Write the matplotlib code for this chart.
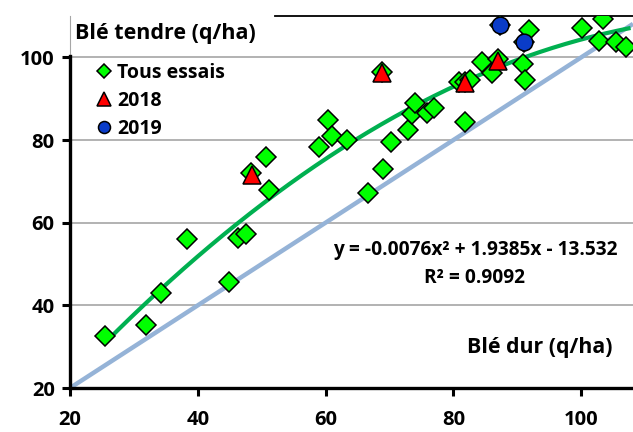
import numpy as np
import matplotlib
matplotlib.use("Agg")
import matplotlib.pyplot as plt

plt.rcParams['font.family'] = ['Open Sans', 'DejaVu Sans']

# Tous essais (blé dur, blé tendre) en q/ha
dur_tous = [25.5, 31.9, 34.2, 38.3, 44.9, 46.3, 47.6, 48.4, 50.7, 51.2,
            59.0, 60.4, 61.0, 63.3, 66.7, 68.8, 69.0, 70.3, 72.9, 73.5,
            74.0, 75.8, 76.9, 80.8, 81.8, 82.6, 81.8, 84.4, 86.1, 87.0,
            87.3, 90.9, 91.0, 91.2, 91.9, 100.1, 102.8, 103.4, 105.4, 107.0]
tendre_tous = [32.7, 35.2, 42.9, 56.1, 45.7, 56.3, 57.2, 72.0, 75.9, 68.0,
               78.4, 84.8, 80.9, 80.0, 67.2, 96.5, 73.0, 79.6, 82.4, 86.4,
               88.9, 86.6, 87.8, 94.1, 94.0, 94.5, 84.4, 98.9, 96.1, 99.5,
               107.8, 98.5, 103.7, 94.6, 106.7, 107.2, 104.0, 109.2, 103.7, 102.5]

dur_2018 = [48.5, 68.8, 81.8, 87.0]
tendre_2018 = [71.5, 96.1, 93.8, 99.0]

dur_2019 = [87.3, 91.0]
tendre_2019 = [107.8, 103.7]

# courbe de tendance polynomiale (coefficients affichés)
coef_poly = [-0.0076, 1.9385, -13.532]

fig = plt.figure(figsize=(6.33, 4.32), dpi=100)
ax = fig.add_axes([70/633, 44/432, 563/633, 372/432])

ax.set_xlim(20, 108.1)
ax.set_ylim(20, 110)

# grille horizontale
for yv in [40, 60, 80, 100]:
    ax.axhline(yv, color='#A6A6A6', lw=1.2, zorder=0)
ax.axhline(110, xmin=0.364, color='black', lw=1.3, zorder=1, clip_on=False)

# droite 1:1
ax.plot([20, 108.1], [20, 108.1], color='#95B3D7', lw=3.2, zorder=2, solid_capstyle='butt')

# tendance
xs = np.linspace(min(dur_tous), 107.4, 200)
ax.plot(xs, np.polyval(coef_poly, xs), color='#00B050', lw=3, zorder=3)

ax.plot(dur_tous, tendre_tous, 'D', ms=10, mfc='#00FF00', mec='black', mew=1.1,
        ls='none', zorder=4, label='Tous essais')
ax.plot(dur_2018, tendre_2018, '^', ms=13.5, mfc='#FF0000', mec='black', mew=1.1,
        ls='none', zorder=5, label='2018')
ax.plot(dur_2019, tendre_2019, 'o', ms=12, mfc='#0A3CC8', mec='black', mew=1.1,
        ls='none', zorder=6, label='2019')

# axes
for s in ['top', 'right']:
    ax.spines[s].set_visible(False)
ax.spines['left'].set_linewidth(2.4)
ax.spines['bottom'].set_linewidth(2.4)
ax.spines['left'].set_bounds(20, 100.4)
ax.axvline(20, ymin=80.4/90, color='#A6A6A6', lw=0.8, clip_on=False)

ax.set_xticks([20, 40, 60, 80, 100])
ax.set_yticks([20, 40, 60, 80, 100])
ax.tick_params(direction='out', length=6, width=2.2, labelsize=14.5)
ax.tick_params(axis='x', pad=10)
ax.tick_params(axis='y', pad=5)
for lab in ax.get_xticklabels() + ax.get_yticklabels():
    lab.set_fontweight('bold')

leg = ax.legend(loc='upper left', bbox_to_anchor=(16/563, 1 - 39/372), frameon=False,
                fontsize=14, handletextpad=0.2, labelspacing=0.42,
                handlelength=1.0, markerscale=0.72, borderaxespad=0)
for t in leg.get_texts():
    t.set_fontweight('bold')

fig.text(75/633, 1 - 34/432, 'Blé tendre (q/ha)', fontsize=15.5, fontweight='bold',
         ha='left', va='center')

ax.text(475/633, 1 - 264/432, 'y = -0.0076x² + 1.9385x - 13.532\nR² = 0.9092',
        transform=fig.transFigure, fontsize=13.8, fontweight='bold',
        ha='center', va='center', linespacing=1.5)

fig.text(540/633, 1 - 347/432, 'Blé dur (q/ha)', fontsize=15.4, fontweight='bold',
         ha='center', va='center')

fig.savefig('out.png', dpi=100)
